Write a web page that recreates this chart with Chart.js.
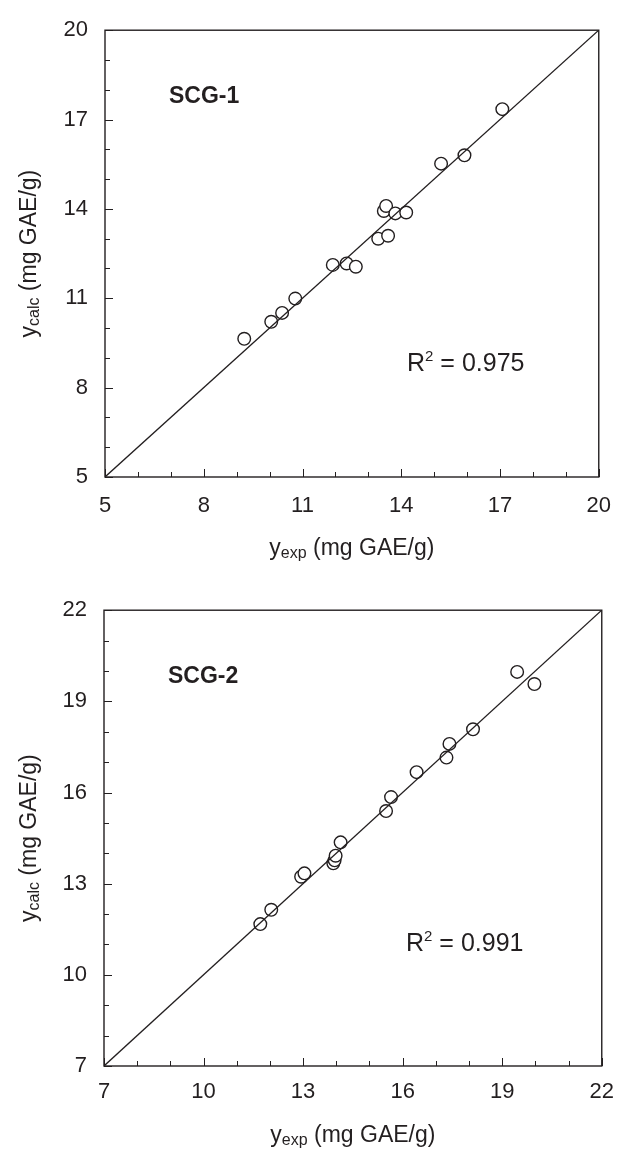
<!DOCTYPE html>
<html>
<head>
<meta charset="utf-8">
<script src="https://cdn.jsdelivr.net/npm/chart.js@4.4.0/dist/chart.umd.min.js"></script>
<style>
  html, body { margin: 0; padding: 0; background: #fff; }
  #wrap { position: relative; width: 627px; height: 1153px; }
  canvas { position: absolute; left: 0; }
</style>
</head>
<body>
<div id="wrap">
  <canvas id="scg1" width="627" height="580" style="top:0"></canvas>
  <canvas id="scg2" width="627" height="573" style="top:580px"></canvas>
</div>
<script>
// SCG-1: experimental vs calculated (mg GAE/g)
const scg1Exp  = [9.23, 10.05, 10.38, 10.78, 11.92, 12.34, 12.62, 13.30, 13.60, 13.47, 13.54, 13.82, 14.15, 15.21, 15.92, 17.07];
const scg1Calc = [9.64, 10.21, 10.51, 10.99, 12.12, 12.17, 12.06, 13.00, 13.10, 13.93, 14.10, 13.85, 13.88, 15.52, 15.80, 17.35];
const scg1Ticks = [5, 8, 11, 14, 17, 20];
const scg1R2 = '0.975';

// SCG-2
const scg2Exp  = [11.71, 12.04, 12.94, 13.04, 13.91, 13.95, 13.98, 14.13, 15.50, 15.65, 16.42, 17.32, 17.41, 18.12, 19.45, 19.97];
const scg2Calc = [11.67, 12.14, 13.23, 13.34, 13.67, 13.77, 13.92, 14.36, 15.39, 15.85, 16.67, 17.15, 17.60, 18.08, 19.97, 19.57];
const scg2Ticks = [7, 10, 13, 16, 19, 22];
const scg2R2 = '0.991';

const FONT = '"Liberation Sans", Arial, sans-serif';
const INK = '#231f20';

// frame, inward ticks, axis titles with subscripts, panel notes
const decorPlugin = {
  id: 'decor',
  afterDraw(chart) {
    const o = chart.options.plugins.decor;
    const { ctx, chartArea: a, scales } = chart;
    ctx.save();
    ctx.strokeStyle = INK;
    ctx.lineWidth = 1.4;
    ctx.strokeRect(a.left, a.top, a.right - a.left, a.bottom - a.top);

    ctx.lineWidth = 1;
    scales.x.ticks.forEach(t => {
      const px = Math.round(scales.x.getPixelForValue(t.value)) + 0.5;
      const len = o.major.includes(t.value) ? 8 : 5;
      ctx.beginPath();
      ctx.moveTo(px, a.bottom);
      ctx.lineTo(px, a.bottom - len);
      ctx.stroke();
    });
    scales.y.ticks.forEach(t => {
      const py = Math.round(scales.y.getPixelForValue(t.value)) + 0.5;
      const len = o.major.includes(t.value) ? 8 : 5;
      ctx.beginPath();
      ctx.moveTo(a.left, py);
      ctx.lineTo(a.left + len, py);
      ctx.stroke();
    });

    ctx.fillStyle = INK;
    ctx.textBaseline = 'alphabetic';

    // text pieces: [text, size, dy]
    const drawRun = (parts, x, y, align) => {
      const widths = parts.map(p => { ctx.font = p[1] + 'px ' + FONT; return ctx.measureText(p[0]).width; });
      const total = widths.reduce((s, w) => s + w, 0);
      let cx = align === 'center' ? x - total / 2 : x;
      parts.forEach((p, i) => {
        ctx.font = p[1] + 'px ' + FONT;
        ctx.textAlign = 'left';
        ctx.fillText(p[0], cx, y + p[2]);
        cx += widths[i];
      });
    };

    drawRun([['y', 23, 0], [o.xSub, 16, 3], [' (mg GAE/g)', 23, 0]],
      (a.left + a.right) / 2, a.bottom + o.xTitleDy, 'center');

    ctx.save();
    ctx.translate(o.yTitleX, (a.top + a.bottom) / 2);
    ctx.rotate(-Math.PI / 2);
    drawRun([['y', 23, 0], ['calc', 16, 3], [' (mg GAE/g)', 23, 0]], 0, 0, 'center');
    ctx.restore();

    ctx.font = 'bold 23px ' + FONT;
    ctx.textAlign = 'left';
    ctx.fillText(o.name, a.left + 64, a.top + 73);

    drawRun([['R', 25, 0], ['2', 15, -10], [' = ' + o.r2, 25, 0]], a.left + 302, a.top + 341, 'left');
    ctx.restore();
  }
};

function makeChart(id, xs, ys, ticks, r2, name, geo) {
  const lo = ticks[0], hi = ticks[ticks.length - 1];
  const pts = xs.map((x, i) => ({ x: x, y: ys[i] }));
  const tickOpts = (pad) => ({
    stepSize: 1,
    autoSkip: false,
    maxRotation: 0,
    padding: pad,
    color: INK,
    font: { family: FONT, size: 22 },
    callback: v => (ticks.includes(v) ? String(v) : '')
  });
  const axis = (extra) => Object.assign({
    type: 'linear',
    min: lo,
    max: hi,
    grid: { display: false, drawTicks: false },
    border: { display: false }
  }, extra);

  return new Chart(document.getElementById(id), {
    type: 'scatter',
    data: {
      datasets: [{
        type: 'line',
        data: [{ x: lo, y: lo }, { x: hi, y: hi }],
        borderColor: INK,
        borderWidth: 1.3,
        pointRadius: 0,
        fill: false
      }, {
        data: pts,
        pointStyle: 'circle',
        pointRadius: 6.3,
        pointBackgroundColor: '#fff',
        pointBorderColor: INK,
        pointBorderWidth: 1.4
      }]
    },
    options: {
      responsive: false,
      animation: false,
      layout: { padding: { top: geo.top, right: geo.right, left: 0, bottom: 0 } },
      plugins: {
        legend: { display: false },
        tooltip: { enabled: false },
        decor: { major: ticks, xSub: 'exp', name: name, r2: r2, xTitleDy: geo.titleDy, yTitleX: 36 }
      },
      scales: {
        x: axis({ afterFit: s => { s.height = geo.xh; }, ticks: tickOpts(geo.tickPad) }),
        y: axis({ afterFit: s => { s.width = geo.left; }, ticks: tickOpts(17) })
      }
    },
    plugins: [decorPlugin]
  });
}

makeChart('scg1', scg1Exp, scg1Calc, scg1Ticks, scg1R2, 'SCG-1',
  { top: 19, right: 26, left: 105, xh: 103, tickPad: 16, titleDy: 78 });
makeChart('scg2', scg2Exp, scg2Calc, scg2Ticks, scg2R2, 'SCG-2',
  { top: 27, right: 25, left: 104, xh: 87, tickPad: 13, titleDy: 76 });
</script>
</body>
</html>
